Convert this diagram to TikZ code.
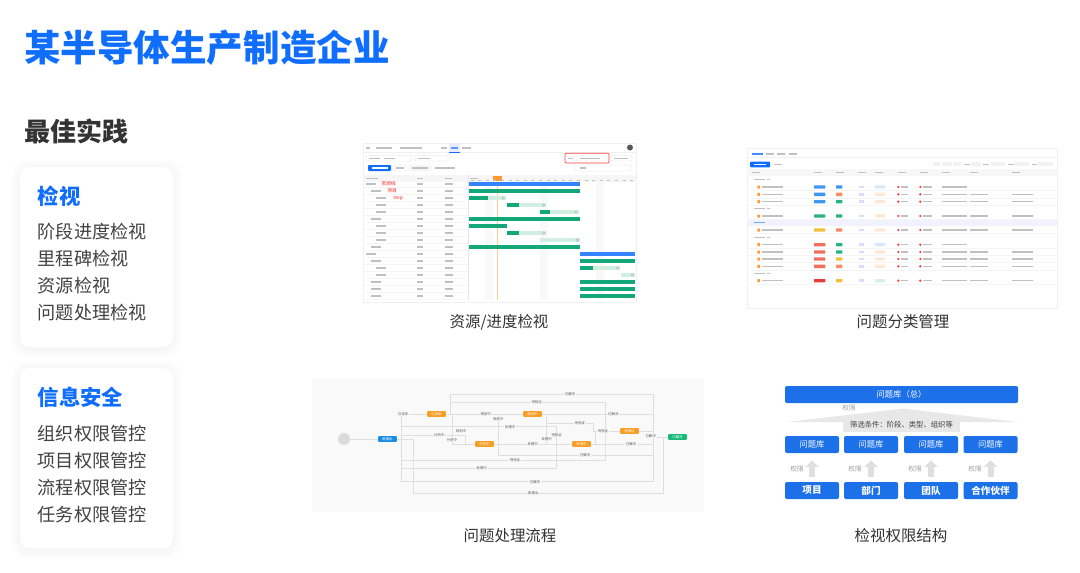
\documentclass[tikz,border=0pt]{standalone}
\usepackage{fontspec}
\setmainfont{Noto Sans CJK SC}
\usetikzlibrary{arrows.meta}
\definecolor{brand}{RGB}{16,110,255}
\definecolor{boxblue}{RGB}{28,112,232}
\definecolor{ink}{RGB}{66,66,66}
\definecolor{capink}{RGB}{51,51,51}
\definecolor{gbar}{RGB}{20,168,120}
\definecolor{lbar}{RGB}{208,238,226}
\definecolor{oranget}{RGB}{247,158,38}
\definecolor{greent}{RGB}{24,186,122}
\definecolor{flowblue}{RGB}{24,140,230}
\definecolor{skelgray}{RGB}{192,192,192}
\definecolor{flowbg}{RGB}{249,249,249}
\definecolor{tblue}{RGB}{64,150,240}
\definecolor{tgreen}{RGB}{40,180,130}
\definecolor{tyellow}{RGB}{245,190,60}
\definecolor{tred}{RGB}{240,112,92}
\definecolor{tdeep}{RGB}{230,60,60}
\definecolor{torange}{RGB}{245,138,100}
\definecolor{lblue}{RGB}{214,232,252}
\definecolor{lorange}{RGB}{253,232,212}
\definecolor{lgreen}{RGB}{214,242,228}
\begin{document}
\begin{tikzpicture}[x=0.75pt, y=-0.75pt,
  txt/.style={anchor=west, inner sep=0pt},
  carditem/.style={txt, text=ink, font=\fontsize{13.6}{16}\selectfont},
  cardhead/.style={txt, text=brand, font=\fontsize{16}{19}\selectfont\bfseries},
  shotcap/.style={inner sep=0pt, text=capink, font=\fontsize{11.6}{14}\selectfont},
  card/.style={fill=white, rounded corners=7.5pt},
  skel/.style={fill=skelgray},
  shot/.style={fill=white, draw=gray!12, line width=0.3pt},
  flownode/.style={minimum width=14pt, minimum height=4.4pt, inner sep=0pt, text=white, font=\fontsize{2.6}{3}\selectfont, rounded corners=0.6pt},
  flowlab/.style={fill=flowbg, inner sep=0.3pt, text=gray!70!black, font=\fontsize{2.6}{3}\selectfont},
  flowline/.style={draw=gray!25, line width=0.35pt},
  permbox/.style={fill=boxblue, text=white, rounded corners=1.5pt, minimum width=40.5pt, minimum height=12.75pt, inner sep=0pt, font=\fontsize{6.2}{7}\selectfont},
  permlab/.style={inner sep=0pt, text=gray!75, font=\fontsize{5}{6}\selectfont},
  permarrow/.style={draw=gray!25, line width=4.5pt, -{Triangle[width=9.75pt, length=5pt]}, shorten <=3.75pt, shorten >=5.25pt}
]
\useasboundingbox (0,0) rectangle (1080,572);
\fill[white] (0,0) rectangle (1080,572);

\node [txt, text=brand, font=\fontsize{27.4}{30}\selectfont\bfseries] (title) at (24,48) {某半导体生产制造企业};
\node [txt, text=capink, font=\fontsize{19.5}{22}\selectfont\bfseries] (best) at (24,131) {最佳实践};

\foreach \top/\bot in {167/347, 368/548} {
  \foreach \s in {1,...,9} {\fill[black, opacity=0.0045, rounded corners=10pt] (20-\s,\top-\s+1.5) rectangle (173+\s,\bot+\s+1.5);}
  \fill[card] (20,\top) rectangle (173,\bot);
}
\node [cardhead] (inspect) at (37.5,196) {检视};
\node [carditem] (inspect1) at (37.5,232) {阶段进度检视};
\node [carditem] (inspect2) at (37.5,259) {里程碑检视};
\node [carditem] (inspect3) at (37.5,286) {资源检视};
\node [carditem] (inspect4) at (37.5,313) {问题处理检视};
\node [cardhead] (secure) at (37.5,397) {信息安全};
\node [carditem] (secure1) at (37.5,434) {组织权限管控};
\node [carditem] (secure2) at (37.5,461) {项目权限管控};
\node [carditem] (secure3) at (37.5,488) {流程权限管控};
\node [carditem] (secure4) at (37.5,515) {任务权限管控};

\draw[shot] (363,143) rectangle (636,302);
\draw[gray!12, line width=0.3pt] (363,152.5) -- (636,152.5);
\foreach \a/\b in {366/369.5, 376/392, 400/422, 441/447, 462/471} \fill[skel] (\a,146.8) rectangle (\b,148.6);
\fill[blue!8] (449,143.3) rectangle (460,152.3);
\fill[brand!70] (451,146.8) rectangle (458,148.6);
\draw[brand, line width=0.5pt] (449,152.3) -- (460,152.3);
\fill[gray!70!black] (630,147.5) circle (3);
\draw[gray!25, line width=0.3pt, rounded corners=0.8pt] (366,155.5) rectangle (412,161) (415,155.5) rectangle (448,161) (576,155.5) rectangle (606,161) (611,155.5) rectangle (632,161);
\foreach \a/\b in {369/380, 384/395, 418/430, 580/600, 614/628} \fill[skel] (\a,157.6) rectangle (\b,158.9);
\fill[skel] (568,157.6) rectangle (573,158.9);
\draw[red!75, line width=0.5pt, rounded corners=0.8pt] (565,153.3) rectangle (609,163);
\fill[brand, rounded corners=0.6pt] (368,165) rectangle (391,171);
\fill[white] (372,167.4) rectangle (388,168.6);
\draw[gray!25, line width=0.3pt, rounded corners=0.6pt] (394,165) rectangle (406,171) (575,165) rectangle (631,171);
\fill[gray!8] (409,165) rectangle (431,171);
\foreach \a/\b in {396/404, 412/428, 435/455, 580/586} \fill[skel] (\a,167.4) rectangle (\b,168.6);
\fill[gray!7] (363,175) rectangle (636,181.5);
\foreach \a/\b in {366/378, 417/423, 445/452, 470/478} \fill[skel] (\a,177.6) rectangle (\b,178.9);
\fill[gray!5] (485,181.5) rectangle (493,300) (540,181.5) rectangle (548,300) (596,181.5) rectangle (604,300);
\fill[orange!80] (493.3,175.5) rectangle (501.7,181);
\draw[orange!40, line width=0.3pt] (497.5,181.5) -- (497.5,300);
\foreach \k in {0,...,21} \fill[skel] ({470.5+7.6*\k},179.6) rectangle ({473.5+7.6*\k},180.6);
\draw[gray!20, line width=0.3pt] (468,175) -- (468,300);
\foreach \r/\l in {1/0, 2/1, 3/2, 4/2, 5/2, 6/1, 7/2, 8/2, 9/2, 10/1, 11/0, 12/1, 13/2, 14/2, 15/1, 16/1, 17/1} {
  \pgfmathsetmacro{\yy}{184+7*(\r-1)}
  \fill[skel] ({366+5*\l},\yy-0.7) rectangle ({376+5*\l},\yy+0.7);
  \fill[skel] (417,\yy-0.7) rectangle (423,\yy+0.7);
  \fill[skel] (445,\yy-0.7) rectangle (453,\yy+0.7);
  \draw[gray!8, line width=0.25pt] (363,\yy+3.5) -- (468,\yy+3.5);
}
\foreach \r/\a/\b in {1/468.7/580, 11/580/635} \fill[brand!85] (\a,{184+7*(\r-1)-2.2}) rectangle (\b,{184+7*(\r-1)+2.2});
\foreach \r/\a/\b in {2/468.7/580, 3/468.7/487.7, 4/506.7/519.3, 5/540/550, 6/468.7/580, 7/468.7/506.7, 8/506.7/519.3, 10/468.7/580, 12/580/635, 13/580/593.3, 15/580/635, 16/580/635, 17/580/635} \fill[gbar] (\a,{184+7*(\r-1)-2.2}) rectangle (\b,{184+7*(\r-1)+2.2});
\foreach \r/\a/\b in {3/487.7/505.7, 4/519.3/546, 5/550/578.7, 8/519.3/546, 9/540/580, 13/593.3/620, 14/621/635} {
  \fill[lbar] (\a,{184+7*(\r-1)-2.2}) rectangle (\b,{184+7*(\r-1)+2.2});
  \draw[gray!60, line width=0.25pt] (\b-2.5,{184+7*(\r-1)}) circle (1.3);
}
\node [txt, text=red!85, font=\fontsize{3.6}{4}\selectfont] (lane) at (381,184) {资源线};
\node [txt, text=red!85, font=\fontsize{3.6}{4}\selectfont] (proj) at (387,191) {项目};
\node [txt, text=red!85, font=\fontsize{3.6}{4}\selectfont] (stp) at (393,198) {step};
\node [shotcap] (cap1) at (499,322) {资源/进度检视};

\draw[shot] (747,148) rectangle (1057,308);
\fill[brand!80] (752,153.3) rectangle (763,154.7);
\draw[brand, line width=0.5pt] (751,157) -- (764,157);
\foreach \a/\b in {766/774, 777/785, 789/797} \fill[skel] (\a,153.3) rectangle (\b,154.7);
\draw[gray!12, line width=0.3pt] (747,157.5) -- (1057,157.5);
\fill[brand, rounded corners=0.6pt] (750,161.7) rectangle (770,167.3);
\fill[white] (754,163.9) rectangle (766,165.1);
\foreach \a/\b in {774/782, 964/970, 983.3/989.3, 1007.7/1014, 1031.7/1037.3} \fill[skel] (\a,163.9) rectangle (\b,165.1);
\foreach \a/\b in {932.7/940, 941.7/951.7, 953.3/960.7, 971/980.7, 990.7/1005, 1015/1029, 1038.3/1053.3} \fill[gray!10] (\a,161.7) rectangle (\b,166.3);
\fill[gray!6] (747,169.3) rectangle (1057,176);
\foreach \a in {752, 814, 836, 858, 875, 898, 920, 942, 970, 1012} \fill[skel] (\a,172) rectangle (\a+8,173.3);
\fill[blue!5] (747,219.3) rectangle (1057,226.1);
\foreach \y in {179.3, 208.3, 237.7, 273.3} {
  \fill[skel] (754,\y-0.7) rectangle (765,\y+0.7);
  \fill[skel] (767,\y-0.7) rectangle (770,\y+0.7);
}
\fill[brand!60] (754,222) rectangle (765,223.4);
\foreach \y/\ca/\cb/\pl in {187/tblue/tblue/lblue, 194.3/tblue/torange/lorange, 201.7/tblue/tgreen/lorange, 216/tgreen/tgreen/lorange, 230/tyellow/torange/lorange, 244.7/tred/tgreen/lblue, 252/tred/tgreen/lorange, 259/tred/tyellow/lorange, 266.3/tred/torange/lorange, 280.7/tdeep/tyellow/lgreen} {
  \fill[orange!80, rounded corners=0.3pt] (757.3,\y-1.5) rectangle (760,\y+1.5);
  \fill[skel] (761.5,\y-0.7) rectangle (783,\y+0.7);
  \fill[\ca, rounded corners=0.4pt] (814,\y-1.7) rectangle (825.3,\y+1.7);
  \fill[\cb, rounded corners=0.4pt] (836,\y-1.7) rectangle (842.3,\y+1.7);
  \fill[blue!14] (859,\y-1.4) rectangle (864,\y+1.4);
  \fill[\pl, rounded corners=0.6pt] (875,\y-1.7) rectangle (885,\y+1.7);
  \fill[red!75] (898.3,\y) circle (1.3);
  \fill[red!75] (920.3,\y) circle (1.3);
  \fill[skel] (900.7,\y-0.7) rectangle (908.3,\y+0.7);
  \fill[skel] (923,\y-0.7) rectangle (931.7,\y+0.7);
  \fill[skel] (941.7,\y-0.7) rectangle (966.7,\y+0.7);
  \draw[gray!8, line width=0.25pt] (747,\y+3.6) -- (1057,\y+3.6);
}
\foreach \y in {194.3, 201.7, 216, 230, 252, 259, 266.3, 280.7} {
  \fill[skel] (970,\y-0.7) rectangle (988.3,\y+0.7);
  \fill[skel] (1011.7,\y-0.7) rectangle (1033.3,\y+0.7);
}
\node [shotcap] (cap2) at (903,322) {问题分类管理};

\fill[flowbg] (312,378) rectangle (704,512);
\node [circle, fill=gray!28, minimum size=9pt, inner sep=0pt] (start) at (344,439) {};
\node [flownode, fill=flowblue] (new) at (387.5,439) {新提出};
\node [flownode, fill=oranget] (sent) at (436.5,414) {已派发};
\node [flownode, fill=oranget] (plan) at (532.5,414) {规划中};
\node [flownode, fill=oranget] (analyse) at (484.5,444) {分析中};
\node [flownode, fill=oranget] (work) at (581.5,444) {处理中};
\node [flownode, fill=oranget] (verify) at (629.5,431) {待验证};
\node [flownode, fill=greent] (done) at (677.5,437) {已解决};
\draw[flowline] (start) -- (new);
\draw[flowline] (new.east) -- (401.7,439) |- (sent.west);
\draw[flowline] (sent.east) -- (plan.west);
\draw[flowline] (sent.east) -- (450,414) |- (653.3,394.3) |- (done.west);
\draw[flowline] (sent.east) -- (450,414) |- (605,402.3) |- (verify.west);
\draw[flowline] (sent.east) -- (452,414) |- (analyse.west);
\draw[flowline] (plan.east) -- (653.3,414);
\draw[flowline] (plan.east) -- (546.7,414) |- (593.3,423.3) |- (verify.west);
\draw[flowline] (plan.east) -- (546.7,414) |- (work.west);
\draw[flowline] (analyse.east) -- (work.west);
\draw[flowline] (analyse.east) -- (498.3,444) |- (plan.west);
\draw[flowline] (analyse.east) -- (498.3,444) |- (653.3,455);
\draw[flowline] (work.east) -- (595,444) |- (verify.west);
\draw[flowline] (work.east) -- (653.3,444);
\draw[flowline] (verify.east) -- (653.3,431) |- (done.west);
\draw[flowline] (new.east) -- (401.7,439) |- (556.7,426.7) |- (work.west);
\draw[flowline] (new.east) -- (401.7,439) |- (465,435) |- (analyse.west);
\draw[flowline] (new.east) -- (401.7,439) |- (605,460) -- (605,431);
\draw[flowline] (new.east) -- (401.7,439) |- (556.7,468.3) -- (556.7,444);
\draw[flowline] (new.east) -- (401.7,439) |- (653.3,481.7) -- (653.3,437);
\draw[flowline] (new.east) -- (413.3,439) |- (663.3,493.3) |- (done.west);
\node [flowlab] (l1) at (570,394.3) {已解决};
\node [flowlab] (l2) at (536.7,402.3) {待验证};
\node [flowlab] (l3) at (403,414.3) {已派发};
\node [flowlab] (l4) at (485.7,414.3) {规划中};
\node [flowlab] (l5) at (498.3,419) {规划中};
\node [flowlab] (l6) at (613.3,414.3) {已解决};
\node [flowlab] (l7) at (580,423.3) {待验证};
\node [flowlab] (l8) at (510,426.7) {处理中};
\node [flowlab] (l9) at (461,431) {规划中};
\node [flowlab] (l10) at (603,431) {待验证};
\node [flowlab] (l11) at (439.3,435) {分析中};
\node [flowlab] (l12) at (556.7,435) {待验证};
\node [flowlab] (l13) at (650.7,436) {已解决};
\node [flowlab] (l14) at (452,440) {分析中};
\node [flowlab] (l15) at (546.7,439.3) {处理中};
\node [flowlab] (l16) at (532.7,444) {处理中};
\node [flowlab] (l17) at (631,444) {已解决};
\node [flowlab] (l18) at (585,455) {已解决};
\node [flowlab] (l19) at (515,460) {待验证};
\node [flowlab] (l20) at (481.7,468.3) {处理中};
\node [flowlab] (l21) at (535,481.7) {已解决};
\node [flowlab] (l22) at (533.3,493.3) {新提出};
\node [shotcap] (cap3) at (510,536) {问题处理流程};

\node [permbox, minimum width=174.75pt] (pool) at (901.5,394.5) {问题库（总）};
\fill[gray!18] (787,422) -- (903,408.5) -- (1018,422) -- cycle;
\node [fill=gray!18, minimum width=87.75pt, minimum height=11.25pt, inner sep=0pt, text=ink, font=\fontsize{5.5}{6}\selectfont] (filter) at (901.5,424.5) {筛选条件：阶段、类型、组织等};
\node [permlab] (ptop) at (849,408.3) {权限};
\node [permbox] (lib1) at (812,444.5) {问题库};
\node [permbox] (lib2) at (871,444.5) {问题库};
\node [permbox] (lib3) at (931,444.5) {问题库};
\node [permbox] (lib4) at (990.5,444.5) {问题库};
\node [permbox, font=\fontsize{7.2}{8}\selectfont\bfseries] (org1) at (812,490.5) {项目};
\node [permbox, font=\fontsize{7.2}{8}\selectfont\bfseries] (org2) at (871,490.5) {部门};
\node [permbox, font=\fontsize{7.2}{8}\selectfont\bfseries] (org3) at (931,490.5) {团队};
\node [permbox, font=\fontsize{7.2}{8}\selectfont\bfseries] (org4) at (990.5,490.5) {合作伙伴};
\draw[permarrow] (org1) -- (lib1);
\draw[permarrow] (org2) -- (lib2);
\draw[permarrow] (org3) -- (lib3);
\draw[permarrow] (org4) -- (lib4);
\node [permlab] (p1) at (797,469) {权限};
\node [permlab] (p2) at (855,469) {权限};
\node [permlab] (p3) at (915,469) {权限};
\node [permlab] (p4) at (975,469) {权限};
\node [shotcap] (cap4) at (901,536) {检视权限结构};
\end{tikzpicture}
\end{document}
